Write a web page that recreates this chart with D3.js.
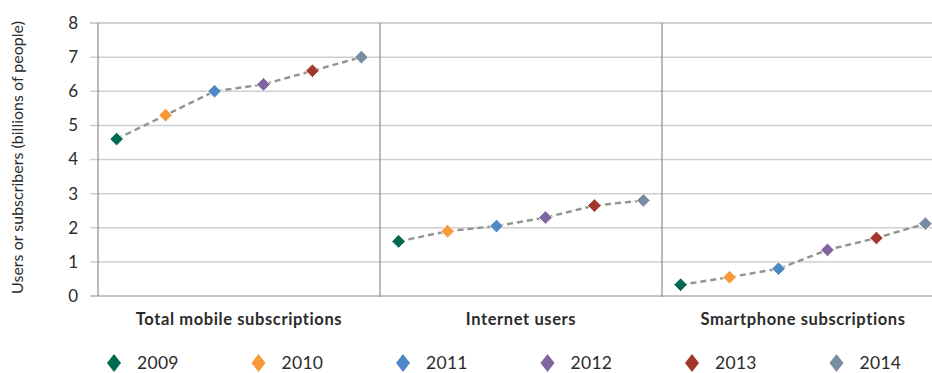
<!DOCTYPE html>
<html>
<head>
<meta charset="utf-8">
<script src="https://cdn.jsdelivr.net/npm/d3@7"></script>
<style>
    body { margin: 0; background: #fff; }
    svg text { font-family: Lato, "Open Sans", sans-serif; fill: #2b2b2b; }
</style>
</head>
<body>
<svg id="chart" width="932" height="373"></svg>
<script>
const years = ['2009', '2010', '2011', '2012', '2013', '2014'];
const categories = ['Total mobile subscriptions', 'Internet users', 'Smartphone subscriptions'];
const mobileValues = [4.6, 5.3, 6.0, 6.2, 6.6, 7.0];
const internetValues = [1.6, 1.9, 2.05, 2.3, 2.65, 2.8];
const smartphoneValues = [0.33, 0.55, 0.8, 1.35, 1.7, 2.12];
const yTicks = [0, 1, 2, 3, 4, 5, 6, 7, 8];
const yearColors = ['#00694f', '#f8993a', '#4f87c7', '#8064a2', '#a2382c', '#7a8ca4'];

const series = [mobileValues, internetValues, smartphoneValues];

const svg = d3.select('#chart');
const margin = {left: 98, top: 23, bottom: 296};
const panelWidth = 282;

const y = d3.scaleLinear().domain([0, 8]).range([margin.bottom, margin.top]);
const panel = d3.scaleBand()
    .domain(categories)
    .range([margin.left, margin.left + panelWidth * categories.length]);
const color = d3.scaleOrdinal().domain(years).range(yearColors);

// gridlines + ticks
svg.append('g')
    .attr('class', 'grid')
    .selectAll('line')
    .data(yTicks.filter(d => d > 0 && d < 8))
    .enter()
    .append('line')
    .attr('x1', margin.left - 8)
    .attr('x2', 932)
    .attr('y1', d => y(d))
    .attr('y2', d => y(d))
    .attr('stroke', '#cfcfcf')
    .attr('stroke-width', 1.5);

// frame
svg.append('line').attr('x1', margin.left - 8).attr('x2', 932).attr('y1', y(8)).attr('y2', y(8))
    .attr('stroke', '#a6a6a6').attr('stroke-width', 1.2);
svg.append('line').attr('x1', margin.left - 8).attr('x2', 932).attr('y1', y(0)).attr('y2', y(0))
    .attr('stroke', '#8c8c8c').attr('stroke-width', 1.2);
svg.append('line').attr('x1', margin.left).attr('x2', margin.left).attr('y1', y(8)).attr('y2', y(0))
    .attr('stroke', '#8c8c8c').attr('stroke-width', 1.2);

svg.append('g')
    .selectAll('line')
    .data(categories.slice(1))
    .enter()
    .append('line')
    .attr('x1', d => panel(d))
    .attr('x2', d => panel(d))
    .attr('y1', y(8))
    .attr('y2', y(0) + 1)
    .attr('stroke', '#8c8c8c')
    .attr('stroke-width', 1.2);

// y tick labels
svg.append('g')
    .selectAll('text')
    .data(yTicks)
    .enter()
    .append('text')
    .attr('x', 78)
    .attr('y', d => y(d))
    .attr('dy', '0.35em')
    .attr('text-anchor', 'end')
    .attr('font-size', 17)
    .text(d => d);

svg.append('text')
    .attr('transform', `translate(23,${(y(8) + y(0)) / 2 - 2}) rotate(-90)`)
    .attr('text-anchor', 'middle')
    .attr('font-size', 16)
    .text('Users or subscribers (billions of people)');

// category labels
svg.append('g')
    .selectAll('text')
    .data(categories)
    .enter()
    .append('text')
    .attr('x', d => panel(d) + panelWidth / 2)
    .attr('y', 325)
    .attr('text-anchor', 'middle')
    .attr('font-size', 16.5)
    .attr('font-weight', 'bold')
    .attr('letter-spacing', 0.6)
    .text(d => d);

const diamond = d3.symbol().type(d3.symbolDiamond2).size(120);

series.forEach((values, i) => {
    const cat = categories[i];
    const x = d3.scalePoint()
        .domain(years)
        .range([panel(cat), panel(cat) + panelWidth])
        .padding(0.38);
    const pts = years.map((yr, j) => ({year: yr, value: values[j]}));

    svg.append('path')
        .datum(pts)
        .attr('fill', 'none')
        .attr('stroke', '#939393')
        .attr('stroke-width', 2.4)
        .attr('stroke-dasharray', '6,4')
        .attr('d', d3.line().x(d => x(d.year)).y(d => y(d.value)));

    svg.append('g')
        .selectAll('path')
        .data(pts)
        .enter()
        .append('path')
        .attr('transform', d => `translate(${x(d.year)},${y(d.value)})`)
        .attr('d', diamond)
        .attr('fill', d => color(d.year))
        .attr('stroke', '#fff')
        .attr('stroke-width', 1);
});

// legend
const legend = svg.append('g')
    .selectAll('g')
    .data(years)
    .enter()
    .append('g')
    .attr('transform', (d, i) => `translate(${114 + i * 144.5},363)`);

legend.append('path')
    .attr('d', 'M0,-9 L7,0 L0,9 L-7,0 Z')
    .attr('fill', d => color(d));

legend.append('text')
    .attr('x', 23)
    .attr('dy', '0.35em')
    .attr('font-size', 17.5)
    .attr('letter-spacing', 0.3)
    .text(d => d);
</script>
</body>
</html>
